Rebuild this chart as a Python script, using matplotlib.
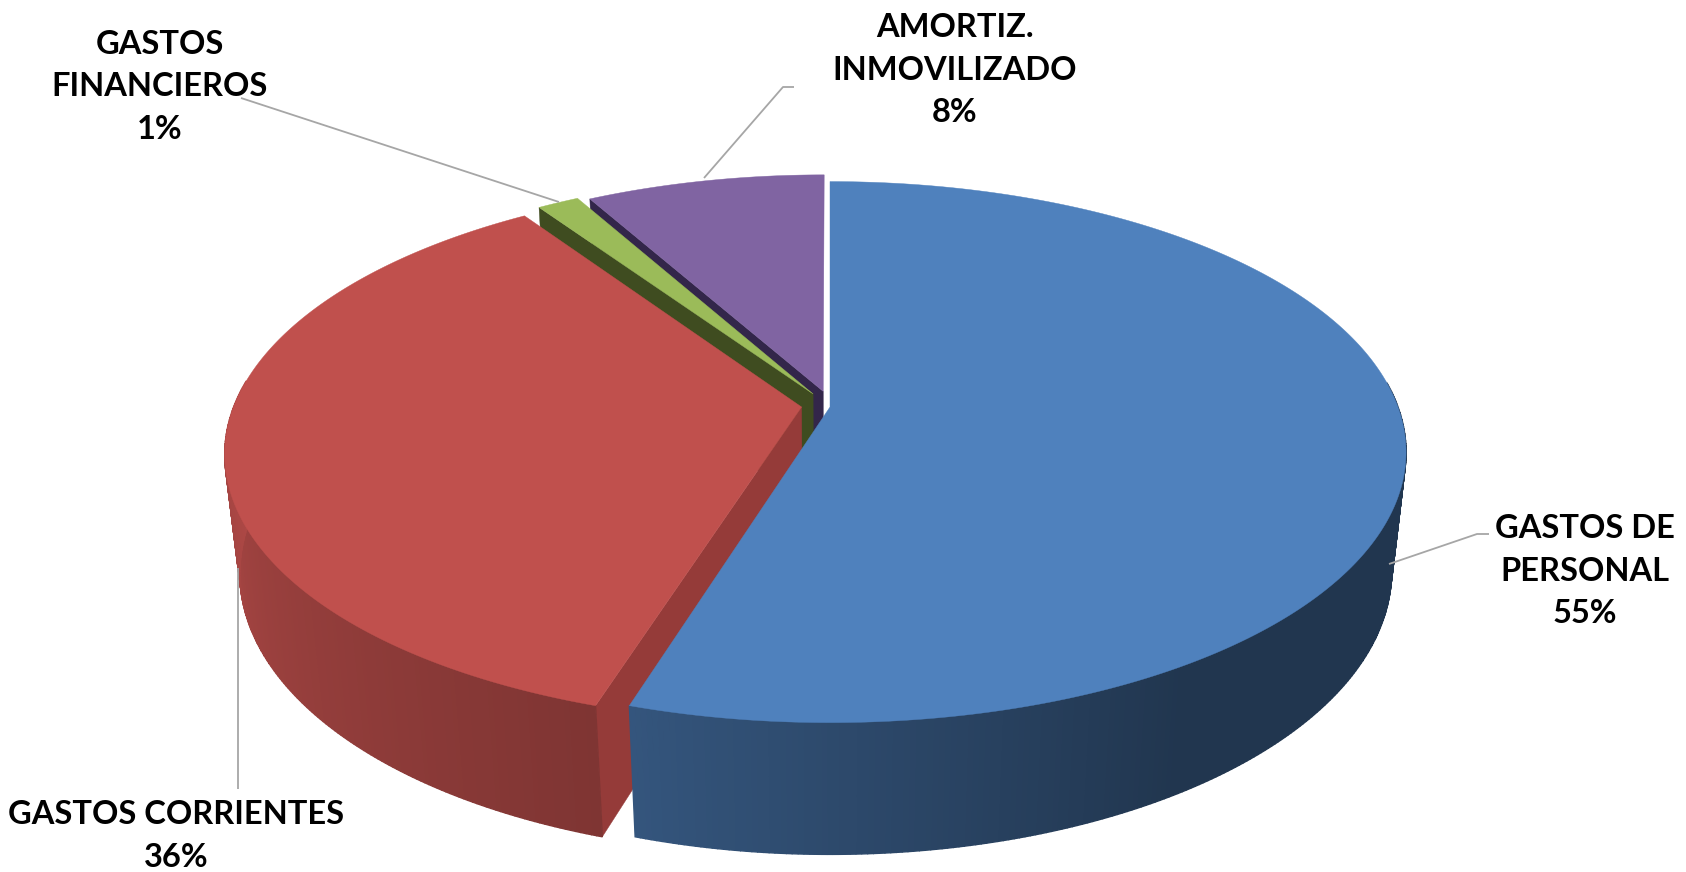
import numpy as np
import matplotlib
matplotlib.use('Agg')
import matplotlib.pyplot as plt

# Datos del gráfico
categorias = ['GASTOS DE\nPERSONAL', 'GASTOS CORRIENTES', 'GASTOS\nFINANCIEROS', 'AMORTIZ.\nINMOVILIZADO']
valores = [54.8, 35.7, 1.4, 8.1]
etiquetas_pct = ['55%', '36%', '1%', '8%']

colores = ['#4F81BD', '#C0504D', '#9BBB59', '#8064A2']
caras = ['#2A4568', '#953B39', '#3F4C20', '#33264A']
# separación de cada porción en el plano del pastel
separacion = [(0, 0), (-0.05, 0), (-0.03, -0.05), (-0.012, -0.06)]
radios = [1.0, 1.0, 0.99, 0.975]

# Cámara en perspectiva (píxeles)
X0, Y0 = 830, 407
A, B, C = 568, 263, 121
P, Q = 0.1667, 0.025


def proyectar(x, y, z=0.0):
    w = 1 - P * y + Q * z
    return X0 + A * x / w, Y0 + (B * y + C * z) / w


def sombra_lateral(i, ang):
    # oscurecimiento del borde según el ángulo (sentido horario desde arriba)
    if i == 0:
        f = np.interp(ang, [90, 148, 165, 197], [0.42, 0.42, 0.5, 0.66])
    elif i == 1:
        f = np.interp(ang, [197, 270], [0.66, 0.9])
    else:
        f = 0.45
    return tuple(f * c for c in matplotlib.colors.to_rgb(colores[i]))


fig = plt.figure(figsize=(16.86, 8.72), dpi=100)
ax = fig.add_axes([0, 0, 1, 1])
ax.set_xlim(0, 1686)
ax.set_ylim(872, 0)
ax.axis('off')

limites = np.concatenate([[0], np.cumsum(valores)]) / np.sum(valores) * 360

# Orden de dibujo: del fondo hacia delante
for i in [3, 2, 1, 0]:
    ini, fin = limites[i], limites[i + 1]
    dx, dy = separacion[i]
    r = radios[i]
    angs = np.linspace(ini, fin, max(int(2 * (fin - ini)), 4) + 1)
    ex = dx + r * np.sin(np.radians(angs))
    ey = dy - r * np.cos(np.radians(angs))

    # cara de corte visible (la azul queda oculta)
    if i != 0:
        pts = [proyectar(dx, dy), proyectar(ex[0], ey[0]), proyectar(ex[0], ey[0], 1), proyectar(dx, dy, 1)]
        ax.fill(*zip(*pts), color=caras[i], lw=0.3)

    # borde exterior con degradado (solo la parte delantera se ve)
    for k in range(len(angs) - 1):
        if ey[k] < -0.1:
            continue
        pts = [proyectar(ex[k], ey[k]), proyectar(ex[k + 1], ey[k + 1]),
               proyectar(ex[k + 1], ey[k + 1], 1), proyectar(ex[k], ey[k], 1)]
        col = sombra_lateral(i, angs[k])
        ax.fill(*zip(*pts), color=col, lw=1.0)

    # cara superior
    top = [proyectar(dx, dy)] + [proyectar(a, b) for a, b in zip(ex, ey)]
    ax.fill(*zip(*top), color=colores[i], lw=0.3)

# Líneas guía
guias = [
    [(1389, 564), (1477, 534), (1489, 534)],
    [(237.5, 568), (237.5, 789)],
    [(559, 202), (241, 98)],
    [(704, 178), (783, 87), (794, 87)],
]
for g in guias:
    ax.plot(*zip(*g), color='#A6A6A6', lw=1.3, solid_capstyle='butt')

# Etiquetas
pos_texto = [(1585, 571), (176, 836), (160, 87), (955, 70)]
for cat, pct, (tx, ty) in zip(categorias, etiquetas_pct, pos_texto):
    ax.text(tx, ty, cat + '\n' + pct, ha='center', va='center', ma='center',
            family='Lato', fontweight='bold', fontsize=23.5, color='black', linespacing=1.58)

plt.savefig('out.png', dpi=100)
